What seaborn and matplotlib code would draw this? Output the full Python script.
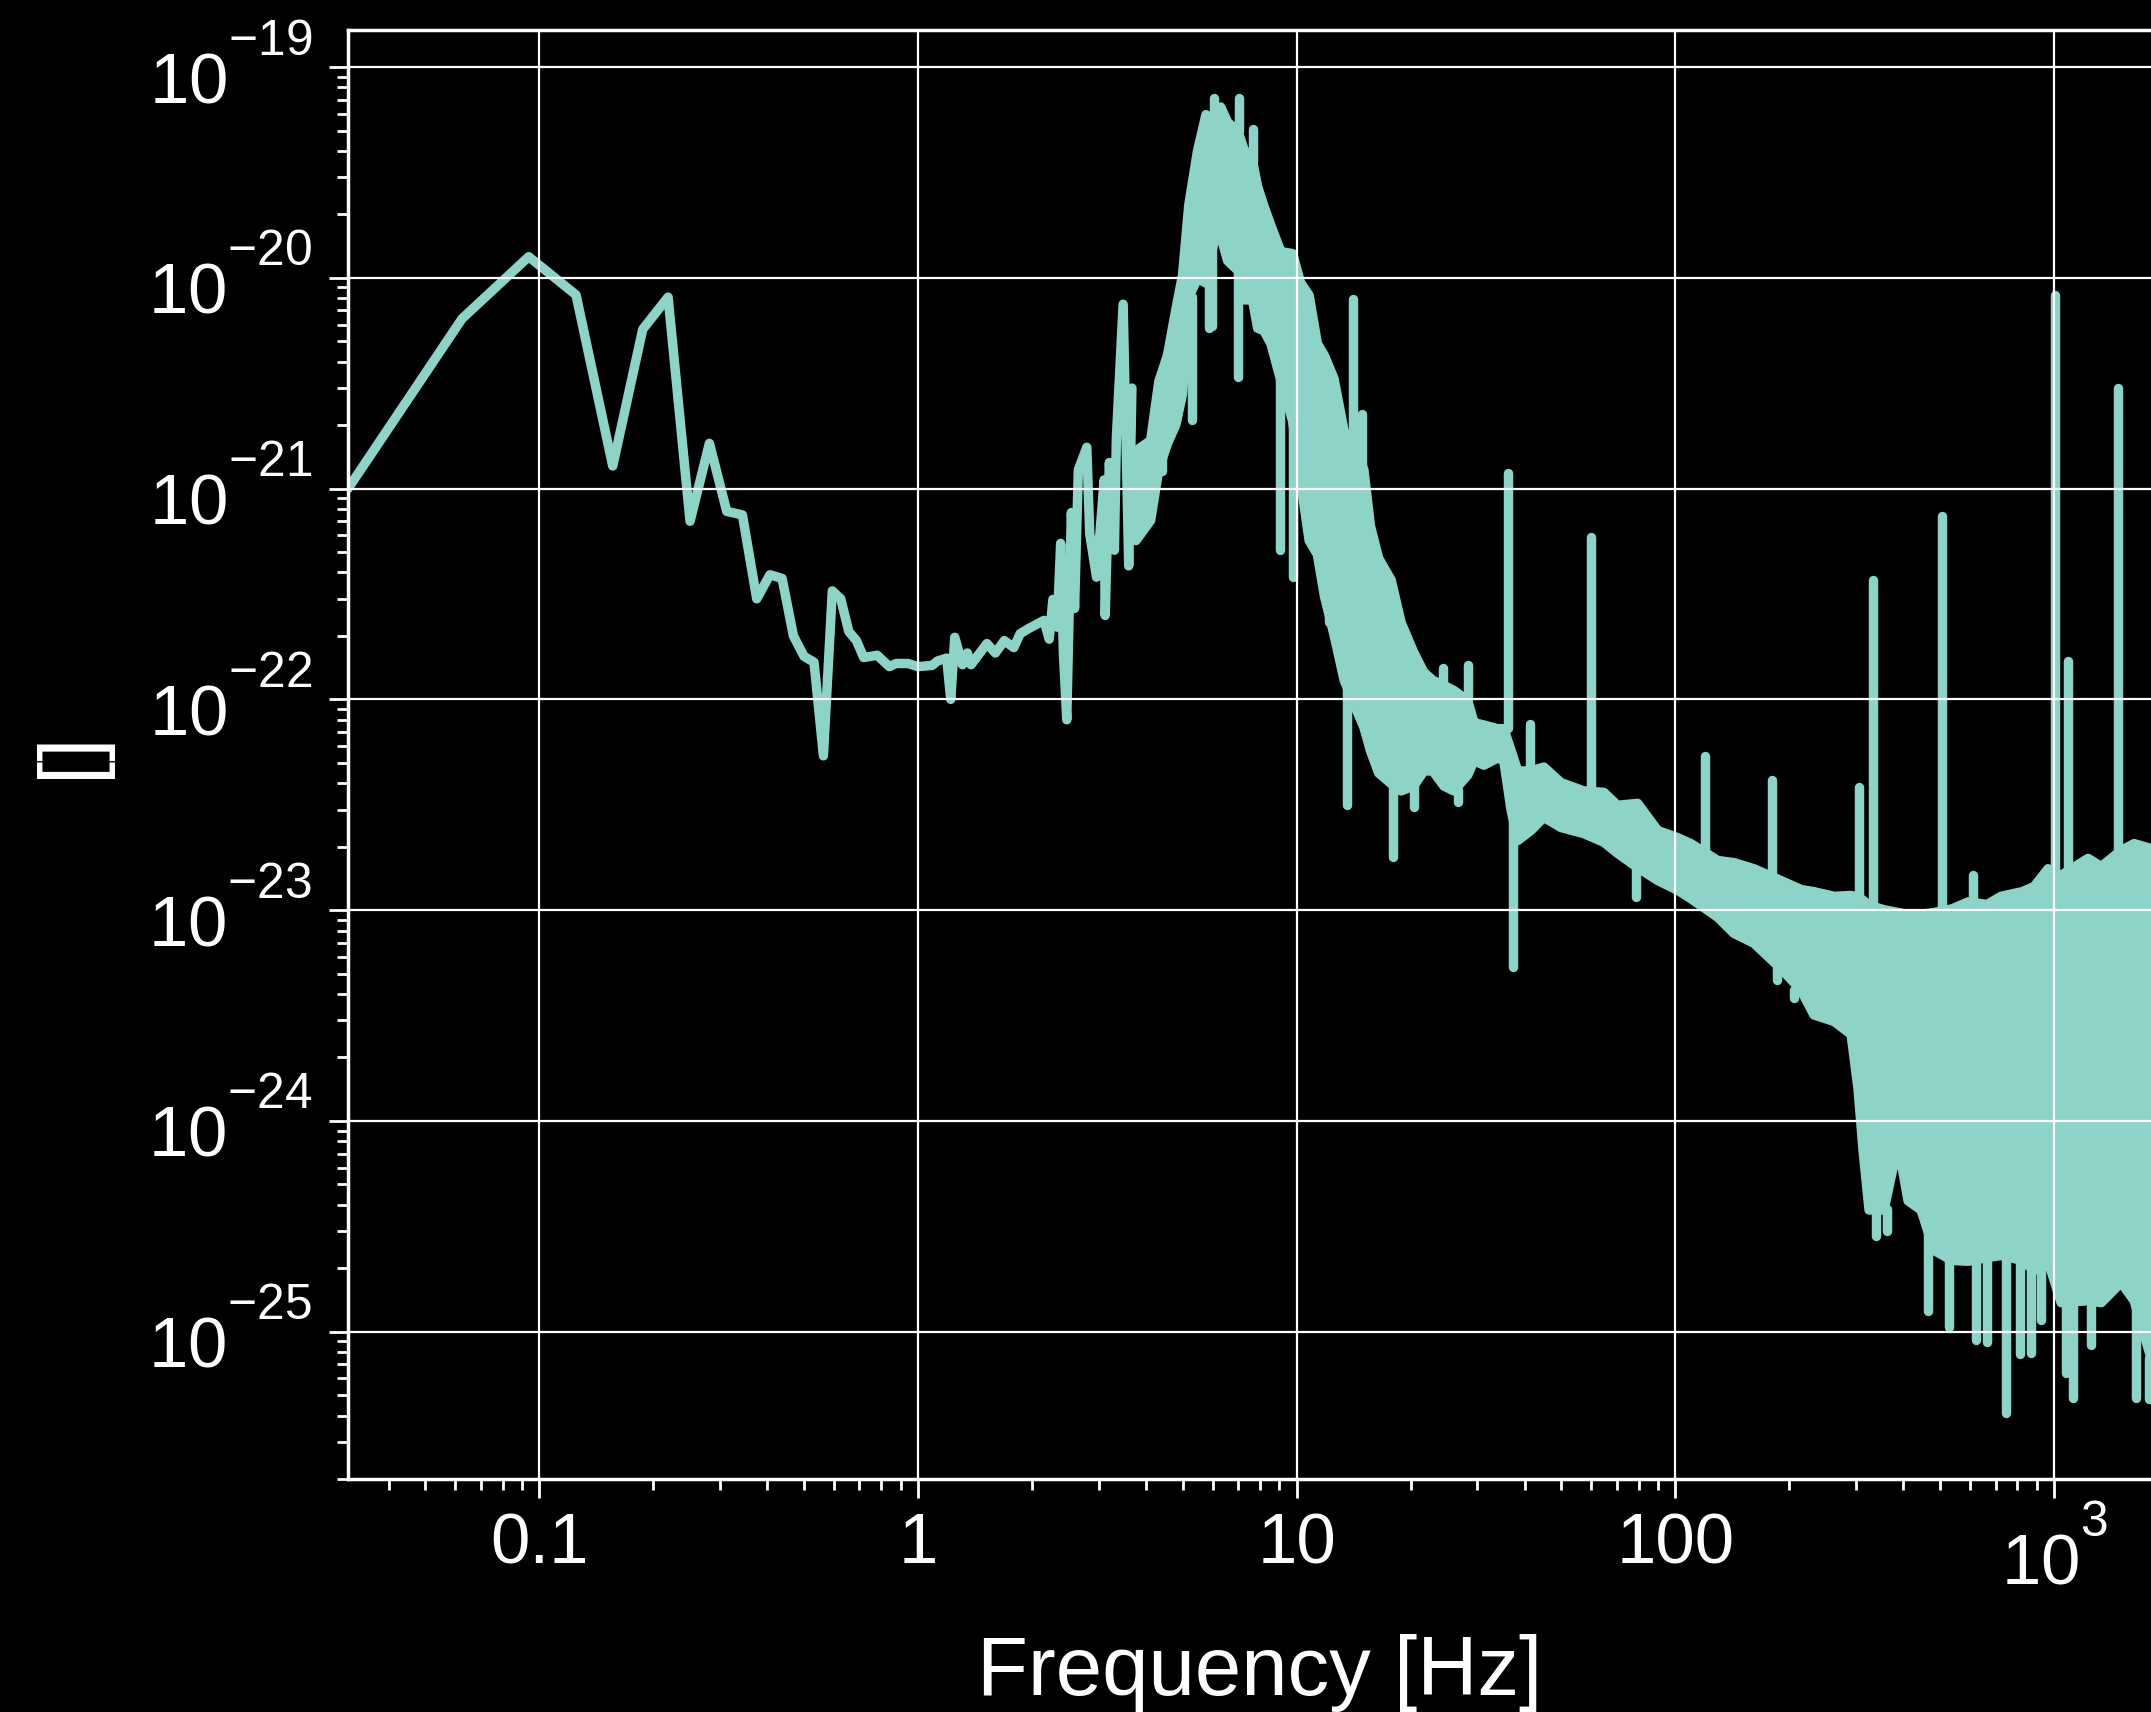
import numpy as np
import pandas as pd
import matplotlib
matplotlib.use("Agg")
import matplotlib.pyplot as plt
from matplotlib.ticker import LogLocator, NullFormatter, FuncFormatter
import seaborn as sns

# ---------------- data ----------------
# continuous low-frequency part of the spectrum
trace_freq = [0.03125, 0.0625, 0.09375, 0.125, 0.15625, 0.1875, 0.21875, 0.25, 0.28125,
              0.3125, 0.34375, 0.375, 0.40625, 0.4375, 0.46875, 0.5, 0.53125, 0.5625,
              0.59375, 0.625, 0.65625, 0.6875, 0.71875, 0.75, 0.78, 0.84, 0.875, 0.94,
              1.0, 1.09, 1.125, 1.19, 1.22, 1.25, 1.31, 1.35, 1.38, 1.52, 1.6, 1.69,
              1.79, 1.86, 1.97, 2.15, 2.22, 2.27, 2.33, 2.38, 2.42, 2.47, 2.54, 2.59,
              2.65, 2.79, 2.84, 2.96, 3.1, 3.12, 3.2, 3.3, 3.34, 3.48, 3.6, 3.67]
trace_asd = [1.0e-21, 6.4e-21, 1.26e-20, 8.3e-21, 1.28e-21, 5.7e-21, 8.1e-21, 7.0e-22, 1.64e-21,
             7.8e-22, 7.5e-22, 3.0e-22, 3.9e-22, 3.75e-22, 2.0e-22, 1.6e-22, 1.5e-22, 5.4e-23,
             3.27e-22, 3.0e-22, 2.1e-22, 1.9e-22, 1.58e-22, 1.6e-22, 1.62e-22, 1.43e-22, 1.48e-22, 1.48e-22,
             1.43e-22, 1.45e-22, 1.52e-22, 1.57e-22, 1.0e-22, 1.97e-22, 1.46e-22, 1.66e-22, 1.46e-22, 1.84e-22, 1.66e-22, 1.9e-22,
             1.76e-22, 2.05e-22, 2.18e-22, 2.37e-22, 1.93e-22, 2.98e-22, 2.2e-22, 5.5e-22, 1.66e-22, 8.0e-23, 7.7e-22, 2.7e-22,
             1.23e-21, 1.57e-21, 6.1e-22, 3.8e-22, 1.1e-21, 2.5e-22, 1.33e-21, 5.1e-22, 1.75e-21, 7.5e-21, 4.3e-22, 3.0e-21]

# dense part: envelope of the noise band
band_freq = [3.75, 4.10, 4.31, 4.54, 4.78, 4.98, 5.17, 5.45, 5.74, 6.06,
             6.28, 6.55, 6.97, 7.23, 7.62, 7.86, 8.16, 8.52, 9.05, 9.72,
             10.2, 10.75, 11.3, 11.8, 12.5, 13.3, 14.0, 15.0, 15.6, 16.4,
             17.7, 18.8, 20.3, 21.6, 22.8, 24.4, 25.9, 28.2, 29.3, 31.1,
             33.8, 35.1, 36.7, 38.2, 41.4, 44.8, 49.7, 57.1, 64.5, 70.1,
             79.2, 89.5, 101, 109.5, 128.9, 142.3, 160.7, 189.3, 213.9, 231.4,
             261.5, 290, 302.5, 311.9, 323.5, 354.3, 385.9, 410.1, 443.8, 480.3,
             535.8, 590.6, 663, 722, 820, 882, 960.7, 1040, 1225, 1327,
             1498, 1621, 1798, 2048]
band_upper = [1.52e-21, 1.70e-21, 3.24e-21, 4.3e-21, 7.1e-21, 1.04e-20, 2.22e-20, 4.0e-20, 5.98e-20, 5.6e-20,
              6.5e-20, 5.5e-20, 5.0e-20, 4.1e-20, 3.6e-20, 2.72e-20, 2.21e-20, 1.78e-20, 1.34e-20, 1.31e-20,
              9.55e-21, 8.3e-21, 4.9e-21, 4.3e-21, 3.35e-21, 1.88e-21, 1.70e-21, 1.23e-21, 6.7e-22, 4.7e-22,
              3.7e-22, 2.33e-22, 1.68e-22, 1.35e-22, 1.24e-22, 1.17e-22, 1.11e-22, 9.9e-23, 7.8e-23, 7.6e-23,
              7.3e-23, 7.3e-23, 5.75e-23, 4.6e-23, 4.6e-23, 4.8e-23, 4.05e-23, 3.7e-23, 3.64e-23, 3.16e-23,
              3.23e-23, 2.4e-23, 2.22e-23, 2.08e-23, 1.73e-23, 1.69e-23, 1.58e-23, 1.39e-23, 1.26e-23, 1.23e-23,
              1.17e-23, 1.18e-23, 1.16e-23, 1.12e-23, 1.06e-23, 1.01e-23, 9.8e-24, 9.6e-24, 9.6e-24, 9.8e-24,
              1.02e-23, 1.1e-23, 1.07e-23, 1.17e-23, 1.23e-23, 1.3e-23, 1.58e-23, 1.47e-23, 1.77e-23, 1.62e-23,
              1.93e-23, 2.08e-23, 1.97e-23, 2.03e-23]
band_lower = [5.7e-22, 7.1e-22, 1.24e-21, 1.64e-21, 2.02e-21, 2.84e-21, 8.1e-21, 1.0e-20, 9.5e-21, 1.58e-20,
              1.58e-20, 1.21e-20, 1.09e-20, 7.9e-21, 7.9e-21, 5.8e-21, 5.65e-21, 4.9e-21, 3.27e-21, 2.11e-21,
              1.10e-21, 5.7e-22, 4.9e-22, 3.1e-22, 2.04e-22, 1.24e-22, 9.9e-23, 7.4e-23, 5.75e-23, 4.5e-23,
              4.0e-23, 3.7e-23, 3.9e-23, 4.6e-23, 4.6e-23, 3.9e-23, 3.7e-23, 4.4e-23, 5.15e-23, 4.9e-23,
              5.3e-23, 5.15e-23, 3.0e-23, 2.15e-23, 2.4e-23, 2.77e-23, 2.48e-23, 2.32e-23, 2.11e-23, 1.87e-23,
              1.6e-23, 1.39e-23, 1.25e-23, 1.14e-23, 9.3e-24, 7.8e-24, 7.0e-24, 5.3e-24, 4.2e-24, 3.2e-24,
              2.98e-24, 2.59e-24, 1.43e-24, 7.3e-25, 3.8e-25, 3.8e-25, 7.8e-25, 4.2e-25, 3.8e-25, 2.44e-25,
              2.19e-25, 2.17e-25, 2.26e-25, 2.31e-25, 2.19e-25, 1.96e-25, 2.17e-25, 1.38e-25, 1.41e-25, 1.38e-25,
              1.72e-25, 1.41e-25, 7.5e-26, 8.2e-26]

# narrow lines (spikes up) and dips sticking out of the band
spike_freq = [6.06, 7.02, 7.65, 14.08, 14.9, 24.4, 28.4, 36.2, 41.3, 60.0, 120.0, 180.0, 305, 332, 505,
              611, 1005, 1090, 1475,
              4.41, 5.29, 5.85, 5.97, 6.98, 9.05, 9.78, 12.2, 13.6, 17.9, 20.4, 26.6, 37.3, 78.6, 184.9,
              205, 338, 362, 464, 528,
              622, 663, 746, 810, 866, 921, 1072, 1118, 1248, 1641, 1776]
spike_from = [5.6e-20, 5.0e-20, 3.6e-20, 1.7e-21, 1.23e-21, 1.17e-22, 9.9e-23, 7.3e-23, 4.6e-23, 3.7e-23, 1.73e-23, 1.39e-23, 1.16e-23, 1.06e-23, 1.02e-23,
              1.1e-23, 1.58e-23, 1.47e-23, 1.93e-23,
              1.4e-21, 8.1e-21, 1.0e-20, 1.58e-20, 1.09e-20, 3.27e-21, 2.11e-21, 3.1e-22, 1.24e-22, 4.0e-23, 3.9e-23, 3.7e-23, 3.0e-23, 1.6e-23, 5.3e-24,
              4.2e-24, 3.8e-25, 3.8e-25, 3.8e-25, 2.19e-25,
              2.17e-25, 2.26e-25, 2.31e-25, 2.19e-25, 1.96e-25, 2.17e-25, 1.38e-25, 1.38e-25, 1.41e-25, 1.41e-25, 7.5e-26]
spike_to = [7.1e-20, 7.1e-20, 5.1e-20, 7.9e-21, 2.26e-21, 1.41e-22, 1.46e-22, 1.19e-21, 7.6e-23, 5.9e-22, 5.4e-23, 4.15e-23, 3.84e-23, 3.7e-22, 7.4e-22,
            1.47e-23, 8.3e-21, 1.52e-22, 3.0e-21,
            1.21e-21, 2.11e-21, 5.8e-21, 5.9e-21, 3.4e-21, 5.1e-22, 3.8e-22, 2.33e-22, 3.15e-23, 1.79e-23, 3.1e-23, 3.26e-23, 5.4e-24, 1.16e-23, 4.67e-24,
            3.83e-24, 2.85e-25, 3.0e-25, 1.26e-25, 1.05e-25,
            9.1e-26, 8.9e-26, 4.1e-26, 7.8e-26, 7.9e-26, 1.14e-25, 6.4e-26, 4.85e-26, 8.6e-26, 4.85e-26, 4.8e-26]

x_limits = (1 / 32, 2048)
y_limits = (2.0e-26, 1.5e-19)
x_label = "Frequency [Hz]"
y_label = "[]"

# ---------------- style ----------------
sns.set_theme(style="dark")
line_color = "#8dd3c7"
plt.rcParams.update({
    "figure.facecolor": "black", "axes.facecolor": "black", "savefig.facecolor": "black",
    "axes.edgecolor": "white", "axes.labelcolor": "white", "text.color": "white",
    "xtick.color": "white", "ytick.color": "white", "grid.color": "white",
    "axes.axisbelow": False,
    "font.family": ["Liberation Sans", "DejaVu Sans"],
    "mathtext.fontset": "custom", "mathtext.rm": "Liberation Sans",
    "mathtext.it": "Liberation Sans", "mathtext.default": "regular",
    "lines.solid_capstyle": "round", "lines.solid_joinstyle": "round",
})

# exponents in the reference sit fully above the "10"
try:
    import matplotlib._mathtext as _mt
    _mt.FontConstantsBase.sup1 = 1.3
except Exception:
    pass

LW = 6.8
fig = plt.figure(figsize=(21.51, 17.12), dpi=100)
ax = fig.add_axes([0.1618, 0.1361, 0.848, 0.8464])
ax.set_xscale("log")
ax.set_yscale("log")

# noise band
ax.fill_between(band_freq, band_lower, band_upper, facecolor=line_color,
                edgecolor=line_color, linewidth=LW, joinstyle="round", zorder=2)

# continuous trace
sns.lineplot(x=trace_freq, y=trace_asd, sort=False, estimator=None,
             color=line_color, linewidth=LW, ax=ax, zorder=2)

# narrow lines / dips
spike_df = pd.DataFrame({
    "freq": np.repeat(spike_freq, 2),
    "asd": np.ravel(np.column_stack([spike_from, spike_to])),
    "line": np.repeat(np.arange(len(spike_freq)), 2),
})
sns.lineplot(data=spike_df, x="freq", y="asd", units="line", estimator=None,
             sort=False, color=line_color, linewidth=LW, ax=ax, zorder=2, legend=False)

ax.set_xlim(*x_limits)
ax.set_ylim(*y_limits)

# ticks
def xfmt(v, pos):
    if v >= 1000:
        return r"$10^{%d}$" % int(round(np.log10(v)))
    return "%g" % v

ax.xaxis.set_major_locator(LogLocator(base=10, numticks=20))
ax.xaxis.set_major_formatter(FuncFormatter(xfmt))
ax.xaxis.set_minor_locator(LogLocator(base=10, subs=np.arange(2, 10), numticks=100))
ax.xaxis.set_minor_formatter(NullFormatter())
ax.yaxis.set_major_locator(LogLocator(base=10, numticks=20))
ax.yaxis.set_minor_locator(LogLocator(base=10, subs=np.arange(2, 10), numticks=100))
ax.yaxis.set_minor_formatter(NullFormatter())

ax.tick_params(which="major", direction="out", length=14, width=2, labelsize=51,
               bottom=True, left=True, top=False, right=False)
ax.tick_params(axis="y", which="major", pad=12)
ax.tick_params(axis="x", which="major", pad=10)
ax.tick_params(which="minor", direction="out", length=8, width=2,
               bottom=True, left=True, top=False, right=False)

for s in ax.spines.values():
    s.set_color("white")
    s.set_linewidth(2.5)

ax.grid(True, which="major", color="white", linewidth=1.6)
ax.grid(False, which="minor")

ax.set_xlabel(x_label, fontsize=60)
ax.xaxis.set_label_coords(0.5, -0.149)
ax.xaxis.label.set_verticalalignment("baseline")
ax.set_ylabel(y_label, fontsize=60)
ax.yaxis.set_label_coords(-0.152, 0.5)
ax.yaxis.label.set_verticalalignment("center")

fig.savefig("out.png", dpi=100)
